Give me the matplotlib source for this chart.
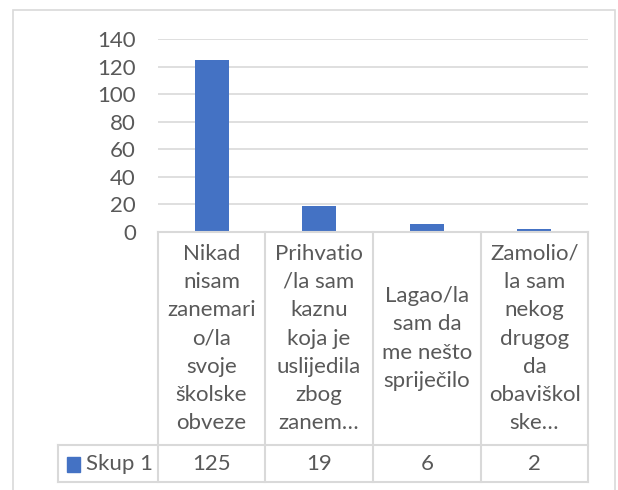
import matplotlib
matplotlib.use("Agg")
import matplotlib.pyplot as plt
from matplotlib.lines import Line2D
from matplotlib.patches import Rectangle

# data
categories = [
    "Nikad\nnisam\nzanemari\no/la\nsvoje\nškolske\nobveze",
    "Prihvatio\n/la sam\nkaznu\nkoja je\nuslijedila\nzbog\nzanem…",
    "Lagao/la\nsam da\nme nešto\nspriječilo",
    "Zamolio/\nla sam\nnekog\ndrugog\nda\nobaviškol\nske…",
]
series_name = "Skup 1"
values = [125, 19, 6, 2]
yticks = [0, 20, 40, 60, 80, 100, 120, 140]

BAR = "#4472C4"
GRID = "#D9D9D9"
TXT = "#595959"
W, H = 618, 490
FS = 16

plt.rcParams["font.family"] = ["Lato", "DejaVu Sans"]

fig = plt.figure(figsize=(W / 100, H / 100), dpi=100)


def fx(px):
    return px / W


def fy(py):
    return 1 - py / H


# outer chart frame
fig.patches.append(Rectangle((fx(13), fy(500)), fx(615) - fx(13), fy(10) - fy(500),
                             transform=fig.transFigure, fill=False,
                             edgecolor=GRID, linewidth=1.2))

left, right, top, bottom = 158, 588, 39, 232
ax = fig.add_axes([fx(left), fy(bottom), fx(right) - fx(left), fy(top) - fy(bottom)])
x = range(len(values))
ax.bar(x, values, width=0.32, color=BAR, zorder=2)
ax.set_xlim(-0.5, len(values) - 0.5)
ax.set_ylim(0, 140)
ax.set_yticks(yticks)
ax.set_yticklabels([str(t) for t in yticks], fontsize=FS, color=TXT)
ax.tick_params(axis="y", length=0, pad=16)
ax.set_xticks([])
ax.grid(axis="y", color=GRID, linewidth=1.2, zorder=0)
for s in ax.spines.values():
    s.set_visible(False)

# data table below the axis
cols = [158, 265, 373, 481, 588]
row_top, row_mid, row_bot = 232, 445, 482


def hline(y, x0, x1):
    fig.lines.append(Line2D([fx(x0), fx(x1)], [fy(y), fy(y)], transform=fig.transFigure,
                            color=GRID, linewidth=1.5))


def vline(xp, y0, y1):
    fig.lines.append(Line2D([fx(xp), fx(xp)], [fy(y0), fy(y1)], transform=fig.transFigure,
                            color=GRID, linewidth=1.5))


hline(row_top, cols[0], cols[-1])
hline(row_mid, 58, cols[-1])
hline(row_bot, 58, cols[-1])
for c in cols:
    vline(c, row_top, row_bot)
vline(58, row_mid, row_bot)

for i, (cat, v) in enumerate(zip(categories, values)):
    cx = (cols[i] + cols[i + 1]) / 2
    fig.text(fx(cx), fy((row_top + row_mid) / 2), cat, ha="center", va="center",
             fontsize=FS, color=TXT, linespacing=1.52)
    fig.text(fx(cx), fy((row_mid + row_bot) / 2), str(v), ha="center", va="center",
             fontsize=FS, color=TXT)

fig.patches.append(Rectangle((fx(67), fy(472)), fx(80) - fx(67), fy(457) - fy(472),
                             transform=fig.transFigure, color=BAR))
fig.text(fx(86), fy((row_mid + row_bot) / 2), series_name, ha="left", va="center",
         fontsize=FS, color=TXT)

fig.savefig("out.png", dpi=100)
